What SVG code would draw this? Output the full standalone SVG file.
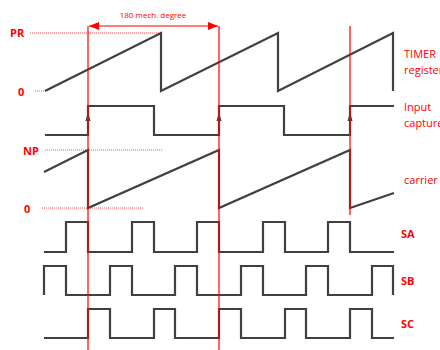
<svg xmlns="http://www.w3.org/2000/svg" width="440" height="350" viewBox="0 0 440 350">
<defs>
<style>
.w{fill:none;stroke:#404040;stroke-width:2.2;stroke-linejoin:miter}
.r{stroke:#ff0000;stroke-width:1.2;fill:none}
.d{stroke:#ff5050;stroke-width:1;stroke-dasharray:1 1;fill:none}
.lb{font-family:"Open Sans","Liberation Sans",sans-serif;font-weight:bold;font-size:11px;fill:#ff0000}
.lt{font-family:"Open Sans","Liberation Sans",sans-serif;font-size:11px;fill:#ff0000}
.ah{fill:#404040}
</style>
<marker id="ra" viewBox="0 0 10 8" refX="10" refY="4" markerWidth="10" markerHeight="8" markerUnits="userSpaceOnUse" orient="auto-start-reverse">
<path d="M0,0 L10,4 L0,8 Z" fill="#ff0000"/>
</marker>
</defs>
<g id="timer">
<path class="d" d="M30,33 H161 M35,91 H45"/>
<path class="w" d="M45,91 L161,33 V91 L278,33 V91 L393,33 V91"/>
<text class="lb" x="10" y="37">PR</text>
<text class="lb" x="18" y="96">0</text>
<text class="lt" x="404" y="58">TIMER</text>
<text class="lt" x="404" y="74">register</text>
</g>
<g id="input-capture">
<path class="w" d="M45,135 H88 V106 H154 V135 H219 V106 H284 V135 H350 V106 H394"/>
<path class="ah" d="M88,112 L85.5,121 L90.5,121 Z M219,112 L216.5,121 L221.5,121 Z M350,112 L347.5,121 L352.5,121 Z"/>
<text class="lt" x="404" y="111">Input</text>
<text class="lt" x="404" y="127">capture</text>
</g>
<g id="carrier">
<path class="d" d="M45,150 H162 M42,208 H143"/>
<path class="w" d="M44,172 L88,150 V208 L219,150 V208 L350,150 V208 L394,193"/>
<text class="lb" x="23" y="155">NP</text>
<text class="lb" x="24" y="213">0</text>
<text class="lt" x="404" y="184">carrier</text>
</g>
<g id="SA">
<path class="w" d="M44,252 H66 V222 H88 V252 H132 V222 H154 V252 H197 V222 H219 V252 H263 V222 H285 V252 H328 V222 H350 V252 H394"/>
<text class="lb" x="401" y="238">SA</text>
</g>
<g id="SB">
<path class="w" d="M44,295 V266 H66 V295 H110 V266 H132 V295 H175 V266 H197 V295 H241 V266 H263 V295 H306 V266 H328 V295 H372 V266 H393 V295"/>
<text class="lb" x="401" y="285">SB</text>
</g>
<g id="SC">
<path class="w" d="M44,338 H88 V309 H110 V338 H154 V309 H175 V338 H219 V309 H241 V338 H285 V309 H306 V338 H350 V309 H372 V338 H394"/>
<text class="lb" x="401" y="328">SC</text>
</g>
<g id="connectors">
<path class="r" d="M88,26 V350 M219,26 V350 M350,26 V215"/>
<line class="r" x1="89" y1="26" x2="218" y2="26" marker-start="url(#ra)" marker-end="url(#ra)"/>
<text class="lt" x="153" y="18" text-anchor="middle" style="font-size:8px">180 mech. degree</text>
</g>
</svg>
